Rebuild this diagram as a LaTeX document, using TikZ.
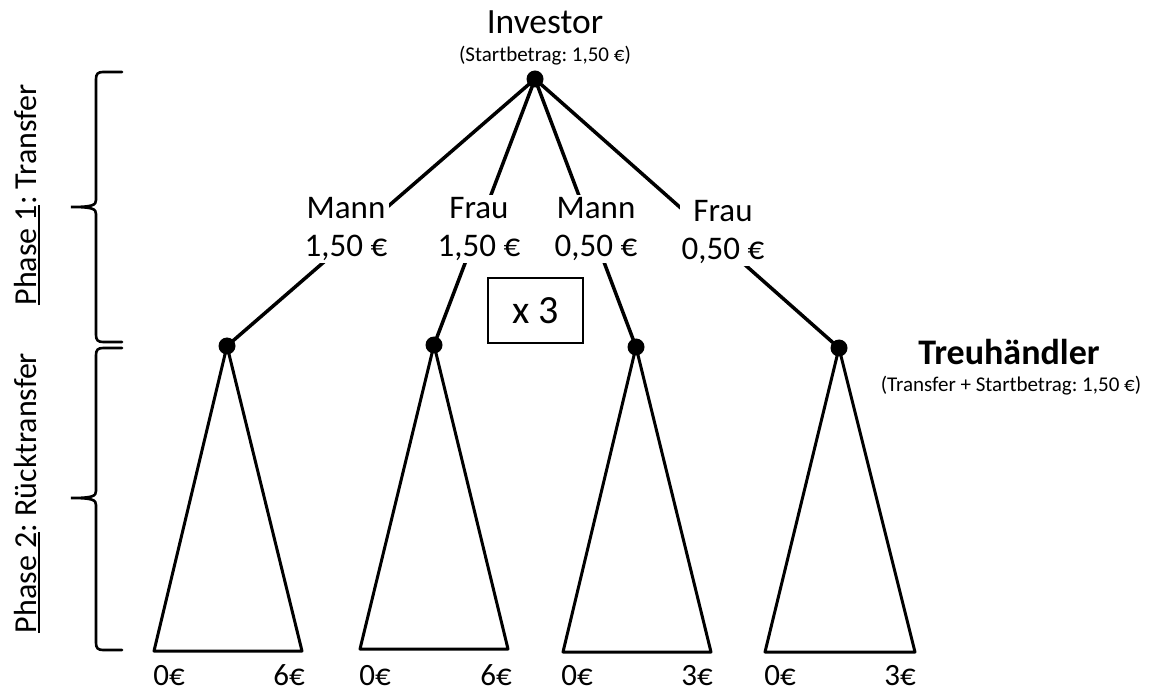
\documentclass[tikz,border=0pt]{standalone}
\usepackage{fontspec}
\setmainfont[Numbers=Lining]{Carlito}
\frenchspacing
\usetikzlibrary{backgrounds}
\newcommand\myul[1]{\setbox0\hbox{#1}\leavevmode\rlap{\rule[-3.5pt]{\wd0}{1.6pt}}\box0}
\tikzset{
  dotnode/.style={circle,fill=black,inner sep=0pt,minimum size=17pt},
  branch/.style={line width=3.5pt},
  tri/.style={line width=3pt,line join=round},
  brace/.style={line width=2.6pt,line cap=round},
  lbl/.style={fill=white,inner sep=2pt,align=center,font=\fontsize{33}{38}\selectfont},
  big/.style={font=\fontsize{35.5}{40}\selectfont,inner sep=0pt},
  small/.style={font=\fontsize{21}{24}\selectfont,inner sep=0pt},
  endlbl/.style={font=\fontsize{31}{34}\selectfont,inner sep=0pt,anchor=base},
  phase/.style={rotate=90,font=\fontsize{32}{36}\selectfont,inner sep=0pt}
}
\begin{document}
\begin{tikzpicture}[x=1pt,y=-1pt]
\useasboundingbox (0,0) rectangle (1162,692);
% top
\node[big] (inv) at (545,22) {Investor};
\node[small] (invsub) at (545,56) {(Startbetrag: 1,50 €)};
\node[dotnode] (d0) at (535,79) {};
% dots
\node[dotnode] (d1) at (227,346) {};
\node[dotnode] (d2) at (434,345) {};
\node[dotnode] (d3) at (636,347) {};
\node[dotnode] (d4) at (839,348) {};
% bottom corners
\coordinate (b1l) at (154,651); \coordinate (b1r) at (302,651);
\coordinate (b2l) at (360,649); \coordinate (b2r) at (508,649);
\coordinate (b3l) at (563,652); \coordinate (b3r) at (711,652);
\coordinate (b4l) at (765,652); \coordinate (b4r) at (915,652);
\begin{pgfonlayer}{background}
\draw[branch] (d0.center) -- (d1.center);
\draw[branch] (d0.center) -- (d2.center);
\draw[branch] (d0.center) -- (d3.center);
\draw[branch] (d0.center) -- (d4.center);
\draw[tri] (d1.center) -- (b1l) -- (b1r) -- cycle;
\draw[tri] (d2.center) -- (b2l) -- (b2r) -- cycle;
\draw[tri] (d3.center) -- (b3l) -- (b3r) -- cycle;
\draw[tri] (d4.center) -- (b4l) -- (b4r) -- cycle;
\end{pgfonlayer}
% branch labels
\node[lbl] (l1) at (346,229) {Mann\\1,50 €};
\node[lbl] (l2) at (479,229) {Frau\\1,50 €};
\node[lbl] (l3) at (596,229) {Mann\\0,50 €};
\node[lbl] (l4) at (723,232) {Frau\\0,50 €};
% x 3 box
\node[draw,line width=1.3pt,minimum width=95pt,minimum height=65pt,inner sep=0pt,
      font=\fontsize{40}{44}\selectfont] (x3) at (535.5,310.5) {x 3};
% Treuhaendler
\node[font=\bfseries\fontsize{36}{40}\selectfont,inner sep=0pt] (treu) at (1009,352) {Treuhändler};
\node[small] (treusub) at (1011,386) {(Transfer + Startbetrag: 1,50 €)};
% end labels
\node[endlbl] (e1a) at (169,685) {0€};
\node[endlbl] (e1b) at (289,685) {6€};
\node[endlbl] (e2a) at (375,685) {0€};
\node[endlbl] (e2b) at (496,685) {6€};
\node[endlbl] (e3a) at (577,685) {0€};
\node[endlbl] (e3b) at (697,685) {3€};
\node[endlbl] (e4a) at (780,685) {0€};
\node[endlbl] (e4b) at (900,685) {3€};
% braces
\draw[brace] (122,72) -- (103,72) .. controls (98,72) and (96,74) .. (96,79)
  -- (96,200) .. controls (96,205) and (93,207) .. (71,207)
  .. controls (93,207) and (96,209) .. (96,214)
  -- (96,335) .. controls (96,340) and (98,342) .. (103,342) -- (122,342);
\draw[brace] (122,348) -- (103,348) .. controls (98,348) and (96,350) .. (96,355)
  -- (96,491) .. controls (96,496) and (93,498) .. (71,498)
  .. controls (93,498) and (96,500) .. (96,505)
  -- (96,643) .. controls (96,648) and (98,650) .. (103,650) -- (122,650);
% phase labels
\node[phase] (p1) at (27,195) {\myul{Phase 1}: Transfer};
\node[phase] (p2) at (27,493) {\myul{Phase 2}: Rücktransfer};
\end{tikzpicture}
\end{document}
